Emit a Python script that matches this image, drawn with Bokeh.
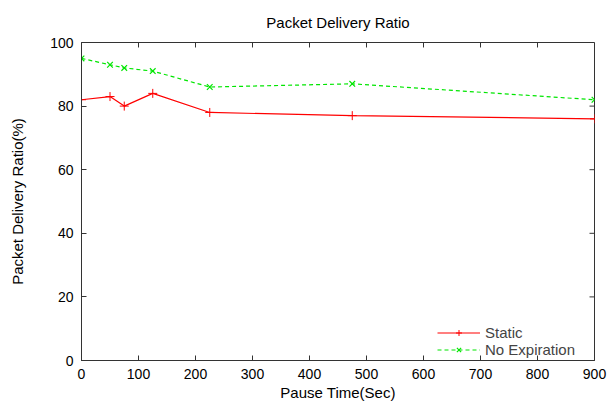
from bokeh.plotting import figure
from bokeh.models import Range1d, FixedTicker, Legend, LegendItem
from bokeh.embed import file_html
from bokeh.resources import INLINE

pause_time = [0, 50, 75, 125, 225, 475, 900]
static_pdr = [82, 83, 80, 84, 78, 77, 76]
noexp_pdr = [95, 93, 92, 91, 86, 87, 82]
x_ticks = [0, 100, 200, 300, 400, 500, 600, 700, 800, 900]
y_ticks = [0, 20, 40, 60, 80, 100]

FONT = "Liberation Sans"
AX = "#333333"
X_MAX, Y_MAX = 900, 100

p = figure(width=608, height=404, x_range=Range1d(0, X_MAX), y_range=Range1d(0, Y_MAX),
           output_backend="svg", toolbar_location=None,
           min_border_left=81, min_border_right=14, min_border_top=41, min_border_bottom=44,
           x_axis_label="Pause Time(Sec)", y_axis_label="Packet Delivery Ratio(%)")
p.title.text = "Packet Delivery Ratio"
p.title.align = "center"
p.title.text_font = FONT
p.title.text_font_style = "normal"
p.title.text_font_size = "15px"
p.title.text_color = "black"
p.title.standoff = 23

p.xgrid.visible = False
p.ygrid.visible = False
p.outline_line_color = AX
p.outline_line_width = 1
p.background_fill_color = "white"
p.border_fill_color = "white"

def style_axis(ax, ticks):
    ax.ticker = FixedTicker(ticks=ticks)
    ax.major_tick_in = 5
    ax.major_tick_out = 0
    ax.minor_tick_line_color = None
    ax.axis_line_color = AX
    ax.major_tick_line_color = AX
    ax.major_label_text_font = FONT
    ax.major_label_text_color = "black"
    ax.axis_label_text_font = FONT
    ax.axis_label_text_font_style = "normal"
    ax.axis_label_text_color = "black"
    ax.axis_label_text_font_size = "15px"
    ax.major_label_text_font_size = "14px"

style_axis(p.xaxis[0], x_ticks)
style_axis(p.yaxis[0], y_ticks)
p.xaxis[0].major_label_standoff = 8
p.xaxis[0].axis_label_standoff = 2
p.yaxis[0].major_label_standoff = 8
p.yaxis[0].axis_label_standoff = 21

# mirrored inward ticks on top and right borders (gnuplot style)
tick_dy = Y_MAX * 5 / 319
tick_dx = X_MAX * 5 / 513
p.segment(x0=x_ticks, y0=[Y_MAX] * len(x_ticks), x1=x_ticks, y1=[Y_MAX - tick_dy] * len(x_ticks),
          line_color=AX, line_width=1)
p.segment(x0=[X_MAX] * len(y_ticks), y0=y_ticks, x1=[X_MAX - tick_dx] * len(y_ticks), y1=y_ticks,
          line_color=AX, line_width=1)

RED = "#ff0000"
GREEN = "#00e600"
r1 = p.line(pause_time, static_pdr, line_color=RED, line_width=1.2)
m1 = p.scatter(pause_time, static_pdr, marker="cross", size=9, line_color=RED, line_width=1)
r2 = p.line(pause_time, noexp_pdr, line_color=GREEN, line_width=1.2, line_dash="4 3")
m2 = p.scatter(pause_time, noexp_pdr, marker="x", size=8, line_color=GREEN, line_width=1.2)

legend = Legend(items=[LegendItem(label="Static", renderers=[r1, m1]),
                       LegendItem(label="No Expiration", renderers=[r2, m2])],
                location=(356, 2))
legend.label_text_font = FONT
legend.label_text_font_size = "15px"
legend.label_height = 15
legend.glyph_height = 15
legend.glyph_width = 43
legend.spacing = 0
legend.padding = 2
legend.margin = 0
legend.border_line_color = None
legend.background_fill_alpha = 0
p.add_layout(legend)

open("out.html", "w").write(file_html(p, INLINE))
